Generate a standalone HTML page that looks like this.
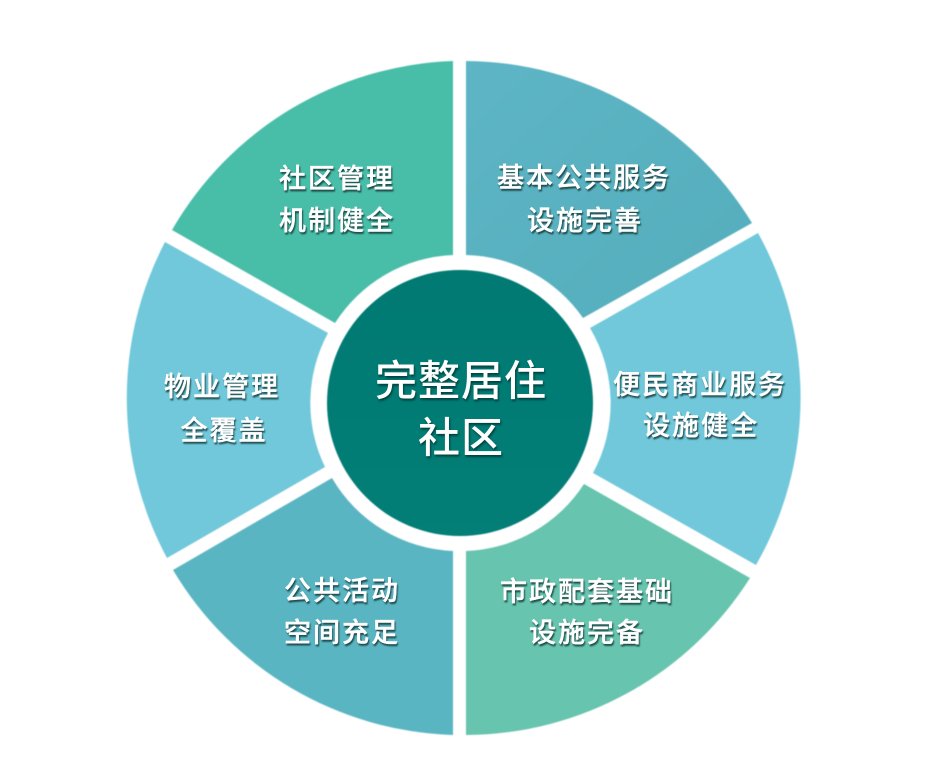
<!DOCTYPE html>
<html lang="zh">
<head>
<meta charset="utf-8">
<style>
html,body{margin:0;padding:0;background:#fff;width:949px;height:763px;overflow:hidden}
svg{display:block}
text{font-family:"Liberation Sans","Noto Sans CJK SC",sans-serif;fill:#fff;text-anchor:middle;dominant-baseline:central}
.t{font-size:27px;letter-spacing:2px;font-weight:500;stroke:#fff;stroke-width:.4px;filter:drop-shadow(1.5px 2px .8px rgba(15,50,50,.8))}
.c{font-size:42px;letter-spacing:1px;font-weight:500;filter:drop-shadow(1.5px 2px 1px rgba(0,40,40,.7))}
</style>
</head>
<body>
<svg width="949" height="763" viewBox="0 0 949 763" xmlns="http://www.w3.org/2000/svg">
<defs>
<linearGradient id="g" x1="0" y1="0" x2="0" y2="1"><stop offset="0" stop-color="#007a72"/><stop offset="1" stop-color="#037f77"/></linearGradient>
<linearGradient id="tr" x1="0" y1="0" x2="1" y2="1"><stop offset="0" stop-color="#5db5c5"/><stop offset="1" stop-color="#55aebc"/></linearGradient>
</defs>
<g style="filter:blur(.6px)">
<path d="M453 61V255A147 147 0 0 0 335 323L172 230A338 338 0 0 1 453 61Z" fill="#48bda8"/>
<path d="M466 61A338 338 0 0 1 752 223L583 318A147 147 0 0 0 466 255Z" fill="url(#tr)"/>
<path d="M758 233A338 338 0 0 1 756 565L593 473A147 147 0 0 0 590 328Z" fill="#70c8da"/>
<path d="M750 578A338 338 0 0 1 466 735V551A147 147 0 0 0 584 484Z" fill="#67c4ae"/>
<path d="M453 735A338 338 0 0 1 173 570L332 478A147 147 0 0 0 453 551Z" fill="#5ab5c3"/>
<path d="M165 242L328 333A147 147 0 0 0 325 467L167 558A338 338 0 0 1 165 242Z" fill="#70c8da"/>
<circle cx="460" cy="403" r="133" fill="url(#g)"/>
</g>
<text class="t" x="337" y="179">社区管理</text>
<text class="t" x="337" y="221">机制健全</text>
<text class="t" x="584" y="178">基本公共服务</text>
<text class="t" x="585" y="221">设施完善</text>
<text class="t" x="700" y="385">便民商业服务</text>
<text class="t" x="701" y="426">设施健全</text>
<text class="t" x="587" y="592">市政配套基础</text>
<text class="t" x="587" y="633">设施完备</text>
<text class="t" x="342" y="591">公共活动</text>
<text class="t" x="342" y="633">空间充足</text>
<text class="t" x="222" y="387">物业管理</text>
<text class="t" x="224" y="431">全覆盖</text>
<text class="c" x="461" y="381">完整居住</text>
<text class="c" x="461" y="438">社区</text>
</svg>
</body>
</html>
